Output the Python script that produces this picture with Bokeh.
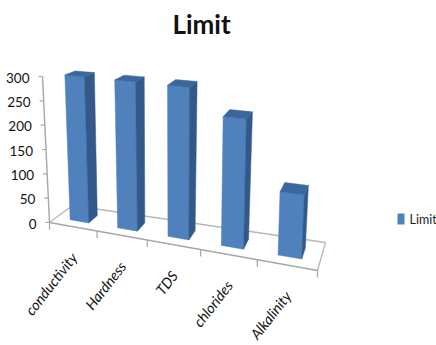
from bokeh.core.properties import value
from bokeh.embed import file_html
from bokeh.models import ColumnDataSource, Range1d
from bokeh.plotting import figure
from bokeh.resources import INLINE

# Chart data
title = "Limit"
series_name = "Limit"
categories = ["conductivity", "Hardness", "TDS", "chlorides", "Alkalinity"]
limits = [300, 300, 300, 250, 120]
value_ticks = [0, 50, 100, 150, 200, 250, 300]

FONT = "Lato"
VMAX = 300.0
N = len(categories)

# Corners of the floor and the perspective used to project the 3D box to the page
FL, FR = (49.0, 222.0), (317.0, 270.0)
BL, BR = (72.0, 205.0), (325.0, 242.0)
PERSPECTIVE = 1.16


def project(u, d, v):
    """Category position u, depth d (0 front, 1 back), value v -> page pixels."""
    s = u / N
    t = s / (s + PERSPECTIVE * (1 - s))
    fx, fy = FL[0] + (FR[0] - FL[0]) * t, FL[1] + (FR[1] - FL[1]) * t
    bx, by = BL[0] + (BR[0] - BL[0]) * t, BL[1] + (BR[1] - BL[1]) * t
    x, y = fx + (bx - fx) * d, fy + (by - fy) * d
    rise = 146.0 * (1 + 0.12 * t) * (1 - 0.05 * d) * v / VMAX
    lean = (-7.0 + 13.0 * t + 3.5 * d) * v / VMAX
    return x + lean, y - rise


def polygon(*corners):
    pts = [project(*c) for c in corners]
    return [p[0] for p in pts], [p[1] for p in pts]


p = figure(width=436, height=345, output_backend="svg", toolbar_location=None,
           x_range=Range1d(0, 436), y_range=Range1d(345, 0),
           min_border=0, outline_line_color=None, background_fill_color="white")
p.axis.visible = False
p.grid.visible = False

# Floor outline and category ticks
AXIS = "#a6a6a6"
p.line(*polygon((0, 1, 0), (N, 1, 0), (N, 0, 0)), line_color="#b8b8b8", line_width=1.3)
p.line(*polygon((0, 0, 0), (0, 1, 0)), line_color="#b8b8b8", line_width=1.3)
p.line(*polygon((0, 0, 0), (N, 0, 0)), line_color=AXIS, line_width=1.4)
for i in range(N + 1):
    x, y = project(i, 0, 0)
    p.segment(x, y, x, y + 7, line_color=AXIS, line_width=1.2)

# Value axis along the front left corner
p.line(*polygon((0, 0, 0), (0, 0, VMAX)), line_color=AXIS, line_width=1.4)
for v in value_ticks:
    x, y = project(0, 0, v)
    p.segment(x - 4, y, x, y, line_color=AXIS, line_width=1.2)
    p.text([x - 13], [y + 1], text=[str(v)], text_font=value(FONT), text_font_size="13.5px",
           text_align="right", text_baseline="middle", text_color="#111111")

# Bars: front, side and top faces
FRONT, SIDE, TOP = "#4f81bd", "#33598a", "#3a679c"
U0, U1, D0, D1 = 0.3, 0.7, 0.3, 0.7
faces = {FRONT: ([], []), SIDE: ([], []), TOP: ([], [])}
for i, v in enumerate(limits):
    a, b = i + U0, i + U1
    for colour, corners in (
        (FRONT, [(a, D0, 0), (b, D0, 0), (b, D0, v), (a, D0, v)]),
        (SIDE, [(b, D0, 0), (b, D1, 0), (b, D1, v), (b, D0, v)]),
        (TOP, [(a, D0, v), (b, D0, v), (b, D1, v), (a, D1, v)]),
    ):
        xs, ys = polygon(*corners)
        faces[colour][0].append(xs)
        faces[colour][1].append(ys)
for colour, (xs, ys) in faces.items():
    p.patches(xs="xs", ys="ys", source=ColumnDataSource(dict(xs=xs, ys=ys)),
              fill_color=colour, line_color=colour, line_width=0.5)

# Slanted category labels, ending just under the floor
for i, name in enumerate(categories):
    x, y = project(i + 0.5, 0, 0)
    p.text([x + 1], [y + 28], text=[name], text_font=value(FONT), text_font_size="14.5px",
           text_font_style="italic", text_align="right", text_baseline="middle",
           text_color="#111111", angle=52, angle_units="deg")

# Title
p.text([201], [23], text=[title], text_font=value(FONT), text_font_size="26px",
       text_font_style="bold", text_align="center", text_baseline="middle", text_color="#111111")

# Legend
p.quad(left=[397], right=[404], top=[213], bottom=[224], fill_color=FRONT, line_color=None)
p.text([409], [219], text=[series_name], text_font=value(FONT), text_font_size="12.5px",
       text_align="left", text_baseline="middle", text_color="#1a1a1a")

open("out.html", "w").write(file_html(p, INLINE))
